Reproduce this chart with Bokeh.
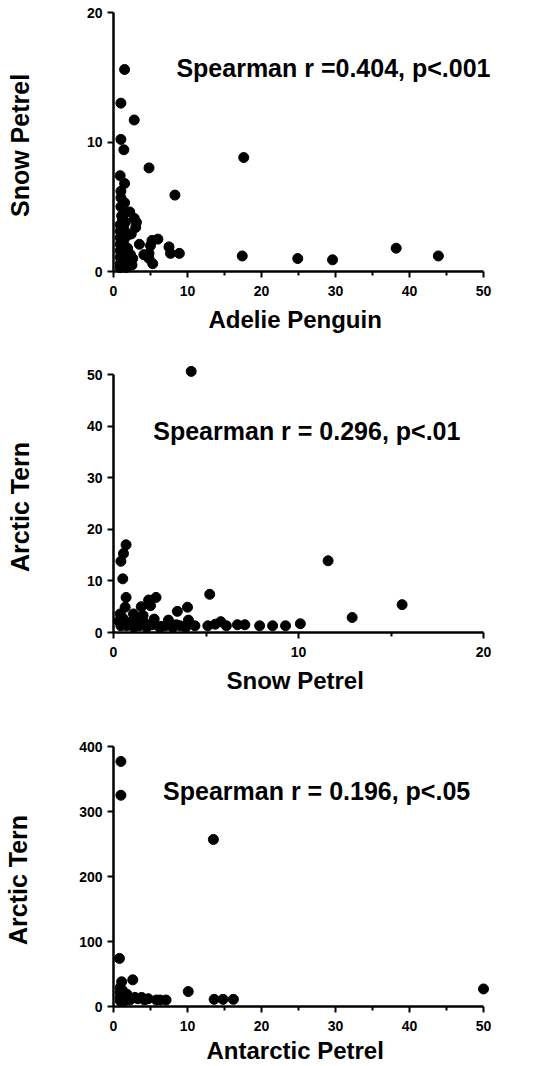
from bokeh.plotting import figure
from bokeh.layouts import column
from bokeh.models import Range1d, FixedTicker
from bokeh.core.properties import value
from bokeh.embed import file_html
from bokeh.resources import INLINE

# Panel 1: Adelie Penguin (x) vs Snow Petrel (y)
adelie_x = [1.5, 1.0, 2.8, 1.0, 1.4, 4.8, 17.6, 8.3, 0.9, 1.5, 1.0, 1.0, 1.5, 1.0,
            1.5, 2.2, 2.8, 3.1, 3.0, 2.4, 3.5, 5.2, 6.0, 7.5, 7.7, 8.9, 4.1, 4.8,
            4.8, 5.3, 17.4, 24.9, 29.6, 38.2, 43.9, 5.0,
            0.9, 0.9, 0.9, 0.9, 0.9, 0.9, 0.9, 0.9, 1.4, 1.4, 1.4, 1.4, 1.9, 1.9,
            1.9, 2.3, 2.5, 2.6, 1.2, 1.6, 1.1, 1.7, 2.0]
snow_y = [15.6, 13.0, 11.7, 10.2, 9.4, 8.0, 8.8, 5.9, 7.4, 6.8, 6.2, 5.7, 5.3, 5.0,
          4.5, 4.6, 4.1, 3.8, 3.4, 2.9, 2.1, 2.4, 2.5, 1.9, 1.4, 1.4, 1.3, 1.4,
          1.0, 0.6, 1.2, 1.0, 0.9, 1.8, 1.2, 2.0,
          3.6, 3.1, 2.6, 2.1, 1.6, 1.1, 0.6, 0.3, 3.3, 2.4, 1.4, 0.5, 2.8, 1.8,
          0.9, 1.3, 0.5, 1.0, 4.0, 3.8, 4.3, 0.3, 0.4]

# Panel 2: Snow Petrel (x) vs Arctic Tern (y)
snow_x = [4.2, 0.68, 0.54, 0.4, 0.5, 11.6, 5.2, 15.6, 12.9, 10.1, 9.3, 8.6, 7.9,
          7.1, 6.7, 6.1, 5.8, 5.5, 5.1, 4.4, 4.05, 4.0, 3.45, 2.97, 2.3, 1.9, 2.0,
          1.5, 2.2, 0.68, 0.63, 0.36, 1.08, 1.44,
          0.4, 0.7, 1.1, 1.4, 1.8, 2.5, 2.8, 3.2, 3.6, 3.9, 0.3, 0.9, 1.2, 1.7,
          2.1, 0.5, 1.6, 2.6, 3.4]
tern_y1 = [50.6, 17.0, 15.3, 13.8, 10.4, 13.9, 7.4, 5.4, 2.9, 1.7, 1.3, 1.3, 1.3,
           1.5, 1.5, 1.3, 2.1, 1.6, 1.3, 1.3, 2.4, 4.9, 4.1, 2.4, 6.8, 6.3, 5.2,
           5.0, 2.6, 6.8, 4.9, 3.6, 3.6, 2.9,
           1.3, 1.3, 1.0, 1.3, 1.0, 1.0, 1.3, 1.0, 1.3, 1.0, 2.2, 2.0, 2.2, 1.8,
           1.5, 2.8, 3.3, 1.2, 1.5]

# Panel 3: Antarctic Petrel (x) vs Arctic Tern (y)
antarctic_x = [1.0, 1.0, 13.5, 0.8, 50.0, 10.1, 2.6, 1.1, 13.6, 14.8, 16.2, 7.1,
               6.3, 5.8, 4.7, 3.8, 2.9, 2.0, 0.9, 0.9, 0.9, 0.9, 1.4, 1.8, 1.2,
               2.4, 3.3, 1.5, 2.2, 4.2]
tern_y2 = [377, 325, 257, 74, 27, 23, 41, 38, 11, 11, 11, 10,
           10, 10, 12, 14, 14, 14, 29, 22, 14, 9, 11, 19, 25,
           12, 12, 9, 10, 10]

FONT = "Liberation Sans"
W = 537


def make_panel(xs, ys, xmax, xticks, xminor, ymax, yticks, xlabel, ylabel,
               note, note_x, note_y, height, top, bottom, left, frame_w,
               ylab_standoff, xlab_standoff):
    p = figure(width=W, height=height, output_backend="svg",
               toolbar_location=None,
               x_range=Range1d(0, xmax), y_range=Range1d(0, ymax),
               min_border_top=top, min_border_bottom=bottom,
               min_border_left=left, min_border_right=W - left - frame_w)
    p.outline_line_color = None
    p.grid.visible = False
    p.background_fill_color = "white"
    p.border_fill_color = "white"

    p.xaxis.ticker = FixedTicker(ticks=xticks, minor_ticks=xminor)
    p.yaxis.ticker = FixedTicker(ticks=yticks, minor_ticks=[])
    for ax in (p.xaxis[0], p.yaxis[0]):
        ax.axis_line_width = 2.5
        ax.axis_line_color = "black"
        ax.major_tick_line_width = 2
        ax.minor_tick_line_width = 2
        ax.major_tick_in = 0
        ax.major_tick_out = 6
        ax.minor_tick_in = 0
        ax.minor_tick_out = 4
        ax.major_label_text_font = FONT
        ax.major_label_text_font_style = "bold"
        ax.major_label_text_font_size = "14px"
        ax.major_label_text_color = "black"
        ax.axis_label_text_font = FONT
        ax.axis_label_text_font_style = "bold"
        ax.axis_label_text_color = "black"
    p.xaxis.axis_label = xlabel
    p.yaxis.axis_label = ylabel
    p.xaxis.axis_label_text_font_size = "24px"
    p.yaxis.axis_label_text_font_size = "25px"
    p.xaxis.major_label_standoff = 8
    p.xaxis.axis_label_standoff = xlab_standoff
    p.yaxis.major_label_standoff = 5
    p.yaxis.axis_label_standoff = ylab_standoff

    r = p.scatter(xs, ys, size=10, color="black")
    r.level = "overlay"

    t = p.text(x=[note_x], y=[note_y], text=[note], text_font=value(FONT),
               text_font_style="bold", text_font_size="25px",
               text_color="black", text_baseline="middle", text_align="left")
    t.level = "overlay"
    return p


p1 = make_panel(adelie_x, snow_y, 50, [0, 10, 20, 30, 40, 50], [5, 15, 25, 35, 45],
                20, [0, 10, 20], "Adelie  Penguin", "Snow  Petrel",
                "Spearman  r  =0.404,  p<.001", 8.5, 15.7,
                height=340, top=12, bottom=69, left=111, frame_w=372,
                ylab_standoff=50, xlab_standoff=7)
p2 = make_panel(snow_x, tern_y1, 20, [0, 10, 20], [5, 15],
                50, [0, 10, 20, 30, 40, 50], "Snow  Petrel", "Arctic  Tern",
                "Spearman  r  =  0.296,  p<.01", 2.15, 39.0,
                height=360, top=34, bottom=68, left=113, frame_w=371,
                ylab_standoff=50, xlab_standoff=7)
p3 = make_panel(antarctic_x, tern_y2, 50, [0, 10, 20, 30, 40, 50], [5, 15, 25, 35, 45],
                400, [0, 100, 200, 300, 400], "Antarctic  Petrel", "Arctic  Tern",
                "Spearman  r  =  0.196,   p<.05", 6.7, 332,
                height=366, top=46, bottom=60, left=113, frame_w=373,
                ylab_standoff=44, xlab_standoff=3)

layout = column(p1, p2, p3, spacing=0)
open("out.html", "w").write(file_html(layout, INLINE))
